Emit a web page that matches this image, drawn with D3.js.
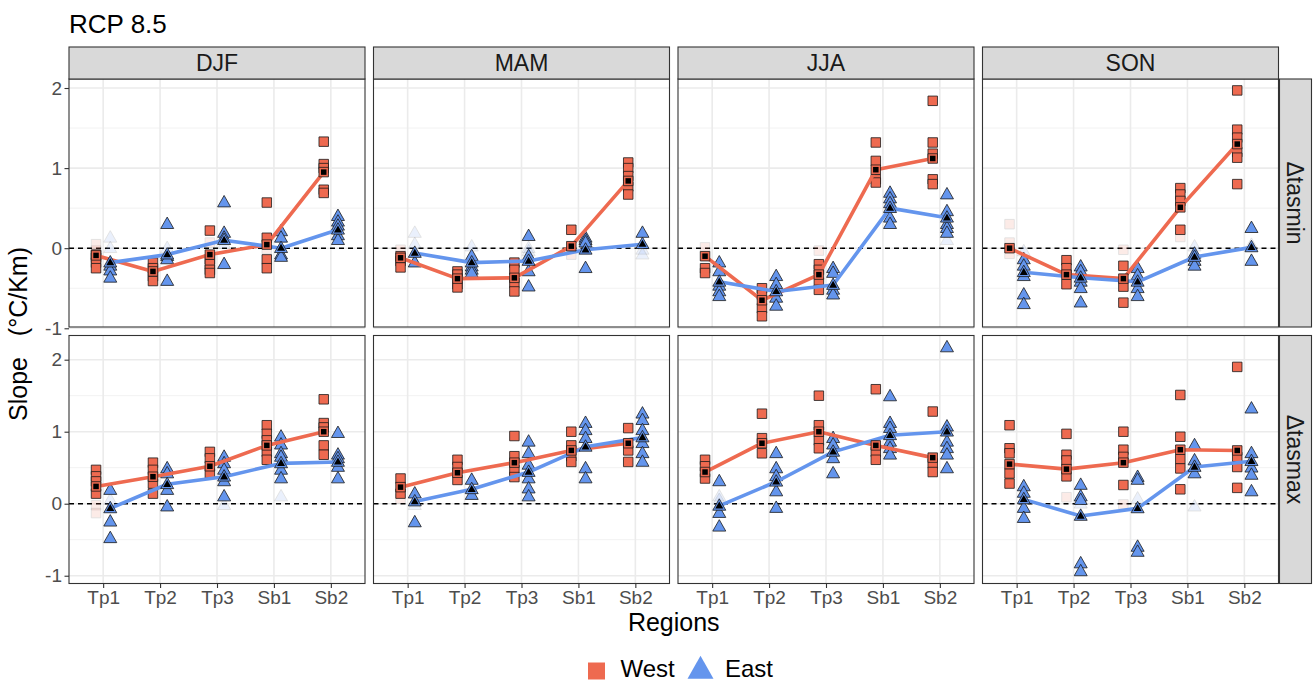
<!DOCTYPE html>
<html><head><meta charset="utf-8">
<script src="https://cdn.jsdelivr.net/npm/d3@7"></script>
<style>
html,body{margin:0;padding:0;background:#fff;}
svg{display:block;font-family:"Liberation Sans",Arial,sans-serif;}
</style></head>
<body>
<svg id="chart" width="1313" height="682"></svg>
<script>
// ---------------- DATA ----------------
const title = "RCP 8.5";
const regions = ["Tp1","Tp2","Tp3","Sb1","Sb2"];
const seasons = ["DJF","MAM","JJA","SON"];
const variables = ["Δtasmin","Δtasmax"];
const groups = ["West","East"];
const yTicks = [-1,0,1,2];
const yTickLabels = ["-1","0","1","2"];
const xTitle = "Regions";
const yTitle = "Slope   (°C/Km)";

// Group means (line + black marker): [season][region]
const tasminWestMean = [[-0.09,-0.29,-0.08,0.045,0.95],[-0.12,-0.38,-0.37,0.025,0.84],[-0.10,-0.65,-0.33,0.98,1.12],[0.00,-0.33,-0.38,0.51,1.30]];
const tasminEastMean = [[-0.18,-0.08,0.10,0.00,0.23],[-0.06,-0.18,-0.16,-0.02,0.05],[-0.42,-0.54,-0.46,0.50,0.38],[-0.30,-0.37,-0.42,-0.11,0.01]];
const tasmaxWestMean = [[0.24,0.375,0.52,0.81,1.00],[0.23,0.43,0.57,0.74,0.84],[0.44,0.84,1.00,0.81,0.64],[0.55,0.48,0.57,0.75,0.74]];
const tasmaxEastMean = [[-0.065,0.27,0.375,0.56,0.58],[0.03,0.20,0.44,0.79,0.92],[-0.03,0.305,0.72,0.95,1.00],[0.06,-0.17,-0.065,0.51,0.59]];

// Individual model slopes, significant: [season][region] -> values
const tasminWest = [
  [[-0.08,-0.12,-0.18,-0.25],[-0.18,-0.25,-0.35,-0.41],[0.22,-0.14,-0.20,-0.27,-0.31],[0.57,0.13,-0.14,-0.25],[1.33,1.05,1.00,0.73,0.69]],
  [[-0.10,-0.16,-0.24],[-0.29,-0.33,-0.45,-0.49],[-0.18,-0.27,-0.43,-0.54],[0.23],[1.07,1.00,0.90,0.77,0.67]],
  [[-0.25,-0.31],[-0.50,-0.58,-0.75,-0.85],[-0.20,-0.27,-0.43,-0.52],[1.32,1.09,0.86,0.82],[1.84,1.32,1.18,0.86,0.80]],
  [[],[-0.15,-0.25,-0.45],[-0.22,-0.48,-0.68],[0.75,0.67,0.59,0.23],[1.97,1.48,1.38,1.20,1.13,0.80]]
];
const tasminEast = [
  [[-0.22,-0.28,-0.37],[0.30,-0.10,-0.14,-0.41],[0.57,0.19,0.13,-0.20],[0.21,0.13,-0.08,-0.11],[0.40,0.33,0.28,0.16,0.10]],
  [[-0.18],[-0.10,-0.23,-0.27,-0.31],[0.15,-0.10,-0.29,-0.48],[0.13,0.10,0.07,-0.25],[0.19]],
  [[-0.18,-0.29,-0.47,-0.54,-0.60],[-0.35,-0.45,-0.62,-0.72],[-0.25,-0.31,-0.52,-0.58],[0.69,0.62,0.56,0.38,0.30],[0.67,0.46,0.30,0.25,0.19]],
  [[-0.14,-0.22,-0.35,-0.58,-0.70],[-0.23,-0.29,-0.42,-0.50,-0.68],[-0.25,-0.34,-0.50,-0.60],[-0.07,-0.16,-0.22],[0.25,-0.16]]
];
const tasmaxWest = [
  [[0.47,0.38,0.31,0.14],[0.57,0.47,0.28,0.14],[0.72,0.63,0.42],[1.09,0.97,0.88,0.72,0.61],[1.45,1.12,1.06,0.81,0.68]],
  [[0.35,0.14],[0.61,0.51,0.33],[0.94,0.66,0.47,0.37],[1.00,0.81,0.66,0.58],[1.05,0.74,0.58]],
  [[0.61,0.52,0.35],[1.25,0.91,0.70],[1.50,1.09,0.88,0.77],[1.59,0.72,0.61],[1.28,0.56,0.44]],
  [[1.09,0.77,0.70,0.42,0.28],[0.97,0.68,0.60,0.38],[1.00,0.75,0.65,0.26],[1.51,0.93,0.62,0.49,0.20],[1.90,0.65,0.51,0.22]]
];
const tasmaxEast = [
  [[0.19,-0.25,-0.48],[0.49,0.42,0.19,-0.04],[0.65,0.56,0.47,0.31,0.10],[0.93,0.82,0.70,0.65,0.47,0.35],[0.98,0.68,0.63,0.51,0.35]],
  [[0.14,-0.26],[0.33,0.12],[0.86,0.70,0.54,0.35,0.21,0.10],[1.12,1.02,0.91,0.49,0.35],[1.25,1.16,1.02,0.84,0.70,0.58]],
  [[0.31,-0.13,-0.32],[0.70,0.49,0.38,0.17,-0.06],[0.91,0.82,0.63,0.42],[1.49,1.12,1.05,0.86,0.77,0.68],[2.17,1.07,0.86,0.77,0.68,0.49]],
  [[0.24,0.15,-0.06,-0.20],[0.26,0.10,0.05,-0.83,-0.94],[0.37,0.33,-0.60,-0.67],[0.81,0.60,0.42],[1.32,0.70,0.50,0.40,0.17]]
];
// Non-significant model slopes (drawn faded): [season][region]
const tasminWestNS = [[[-0.03,0.05],[],[0.07],[-0.01],[]],[[-0.02],[],[],[-0.08],[]],[[0.01],[],[-0.03],[],[]],[[0.30,0.07,-0.07],[],[-0.02],[0.14],[]]];
const tasminEastNS = [[[0.13,0.00],[0.00],[0.05],[],[]],[[0.19,0.05],[0.02],[0.00,-0.04],[],[-0.02,-0.08]],[[],[],[],[],[0.10]],[[-0.04],[],[],[0.02],[0.04]]];
const tasmaxWestNS = [[[-0.02,-0.13],[],[],[],[]],[[0.07],[],[],[],[]],[[],[],[],[],[]],[[],[0.09],[-0.01],[],[]]];
const tasmaxEastNS = [[[0.05],[],[-0.02],[0.10],[]],[[-0.02],[],[],[],[]],[[0.10,0.05],[],[],[],[]],[[],[0.00],[0.07],[-0.04],[]]];

// ---------------- LAYOUT / STYLE ----------------
const colors = {West:"#EE6A50", East:"#6495ED"};
const panelX0 = 69, panelW = 296, gapX = 8.5;
const rowY0 = [79, 335.5], panelH = 248;
const yDomains = [[-0.984, 2.1125], [-1.108, 2.336]];
const stripH = 32, stripW = 32;

const svg = d3.select("#chart");

const x = d3.scalePoint().domain(regions).range([0, panelW]).padding(0.6);
const dodge = x.step() * 0.125;
const yScales = yDomains.map(d => d3.scaleLinear().domain(d).range([panelH, 0]));

const byVar = [
  {West: tasminWest, East: tasminEast, WestNS: tasminWestNS, EastNS: tasminEastNS, WestMean: tasminWestMean, EastMean: tasminEastMean},
  {West: tasmaxWest, East: tasmaxEast, WestNS: tasmaxWestNS, EastNS: tasmaxEastNS, WestMean: tasmaxWestMean, EastMean: tasmaxEastMean}
];

function sqPath(s){ const h=s/2; return `M${-h},${-h}H${h}V${h}H${-h}Z`; }
function triPath(w){ const h=w*0.88; return `M0,${-h*0.62}L${w/2},${h*0.38}L${-w/2},${h*0.38}Z`; }

// title
svg.append("text").attr("x", 69).attr("y", 33).attr("font-size", 26).attr("fill", "#000").text(title);

variables.forEach((v, r) => {
  const y = yScales[r];
  const d = byVar[r];
  seasons.forEach((s, c) => {
    const gx = panelX0 + c * (panelW + gapX);
    const g = svg.append("g").attr("transform", `translate(${gx},${rowY0[r]})`);
    g.append("rect").attr("width", panelW).attr("height", panelH).attr("fill", "#fff");
    // minor grid
    const minor = d3.range(-1.5, 2.6, 1).filter(t => t > y.domain()[0] && t < y.domain()[1]);
    g.selectAll(".ming").data(minor).join("line")
      .attr("x1", 0).attr("x2", panelW).attr("y1", t => y(t)).attr("y2", t => y(t))
      .attr("stroke", "#F2F2F2").attr("stroke-width", 1);
    g.selectAll(".majg").data(yTicks).join("line")
      .attr("x1", 0).attr("x2", panelW).attr("y1", t => y(t)).attr("y2", t => y(t))
      .attr("stroke", "#EBEBEB").attr("stroke-width", 1.6);
    g.selectAll(".vg").data(regions).join("line")
      .attr("x1", t => x(t)).attr("x2", t => x(t)).attr("y1", 0).attr("y2", panelH)
      .attr("stroke", "#EBEBEB").attr("stroke-width", 1.6);
    // zero line
    g.append("line").attr("x1", 0).attr("x2", panelW).attr("y1", y(0)).attr("y2", y(0))
      .attr("stroke", "#000").attr("stroke-width", 1.4).attr("stroke-dasharray", "5,4");

    groups.forEach(grp => {
      const off = grp === "West" ? -dodge : dodge;
      const shape = grp === "West" ? sqPath(9.5) : triPath(13);
      const pts = [], ns = [];
      regions.forEach((reg, i) => {
        d[grp][c][i].forEach(val => pts.push({reg, val}));
        d[grp + "NS"][c][i].forEach(val => ns.push({reg, val}));
      });
      g.append("g").selectAll("path").data(ns).join("path")
        .attr("d", shape).attr("transform", p => `translate(${x(p.reg)+off},${y(p.val)})`)
        .attr("fill", colors[grp]).attr("stroke", "#000").attr("stroke-width", 0.8)
        .attr("opacity", 0.13);
      g.append("g").selectAll("path").data(pts).join("path")
        .attr("d", shape).attr("transform", p => `translate(${x(p.reg)+off},${y(p.val)})`)
        .attr("fill", colors[grp]).attr("stroke", "#1a1a1a").attr("stroke-width", 0.8);
    });
    groups.forEach(grp => {
      const off = grp === "West" ? -dodge : dodge;
      const means = d[grp + "Mean"][c];
      const line = d3.line().x((m, i) => x(regions[i]) + off).y(m => y(m));
      g.append("path").attr("d", line(means)).attr("fill", "none")
        .attr("stroke", colors[grp]).attr("stroke-width", 3.6).attr("stroke-linejoin", "round");
    });
    groups.forEach(grp => {
      const off = grp === "West" ? -dodge : dodge;
      const means = d[grp + "Mean"][c];
      const outer = grp === "West" ? sqPath(9.5) : triPath(13);
      const inner = grp === "West" ? sqPath(5.5) : triPath(8);
      const mg = g.append("g").selectAll("g").data(means).join("g")
        .attr("transform", (m, i) => `translate(${x(regions[i]) + off},${y(m)})`);
      mg.append("path").attr("d", outer).attr("fill", colors[grp]).attr("stroke", "#1a1a1a").attr("stroke-width", 0.8);
      mg.append("path").attr("d", inner).attr("fill", "#000");
    });
    // border
    g.append("rect").attr("width", panelW).attr("height", panelH).attr("fill", "none")
      .attr("stroke", "#333").attr("stroke-width", 1.1);

    // axes
    if (c === 0) {
      const ax = g.append("g").call(d3.axisLeft(y).tickValues(yTicks)
        .tickFormat((t, i) => yTickLabels[i]).tickSize(4.5).tickPadding(2.5));
      ax.select(".domain").remove();
      ax.selectAll("line").attr("stroke", "#333").attr("stroke-width", 1.1);
      ax.selectAll("text").attr("font-size", 19).attr("fill", "#4D4D4D").attr("font-family", "Liberation Sans, Arial, sans-serif");
    }
    if (r === 1) {
      const ax = g.append("g").attr("transform", `translate(0,${panelH})`)
        .call(d3.axisBottom(x).tickSize(4.5).tickPadding(3));
      ax.select(".domain").remove();
      ax.selectAll("line").attr("stroke", "#333").attr("stroke-width", 1.1);
      ax.selectAll("text").attr("font-size", 19).attr("fill", "#4D4D4D").attr("font-family", "Liberation Sans, Arial, sans-serif");
    }
    // top strips
    if (r === 0) {
      const sg = svg.append("g").attr("transform", `translate(${gx},${rowY0[0] - stripH})`);
      sg.append("rect").attr("width", panelW).attr("height", stripH).attr("fill", "#D9D9D9").attr("stroke", "#333").attr("stroke-width", 1.1);
      sg.append("text").attr("x", panelW / 2).attr("y", stripH / 2).attr("dy", "0.35em")
        .attr("text-anchor", "middle").attr("font-size", 23).attr("fill", "#1A1A1A").text(s);
    }
    // right strips
    if (c === seasons.length - 1) {
      const sx = gx + panelW + 1;
      const sg = svg.append("g").attr("transform", `translate(${sx},${rowY0[r]})`);
      sg.append("rect").attr("width", stripW).attr("height", panelH).attr("fill", "#D9D9D9").attr("stroke", "#333").attr("stroke-width", 1.1);
      sg.append("text").attr("transform", `translate(${stripW / 2},${panelH / 2}) rotate(90)`).attr("dy", "0.35em")
        .attr("text-anchor", "middle").attr("font-size", 23).attr("fill", "#1A1A1A").text(v);
    }
  });
});

// axis titles
const plotCenterX = panelX0 + (seasons.length * panelW + (seasons.length - 1) * gapX) / 2;
svg.append("text").attr("x", plotCenterX).attr("y", 631).attr("text-anchor", "middle")
  .attr("font-size", 25).attr("fill", "#000").text(xTitle);
svg.append("text").attr("transform", `translate(27,334) rotate(-90)`).attr("text-anchor", "middle")
  .attr("font-size", 25).attr("fill", "#000").style("white-space", "pre").text(yTitle);

// legend
const leg = svg.append("g").attr("transform", "translate(588,0)");
leg.append("path").attr("d", sqPath(17)).attr("transform", "translate(8.5,671)").attr("fill", colors.West);
leg.append("text").attr("x", 32.5).attr("y", 677).attr("font-size", 24).attr("fill", "#000").text(groups[0]);
leg.append("path").attr("d", triPath(26)).attr("transform", "translate(112.5,670)").attr("fill", colors.East);
leg.append("text").attr("x", 137).attr("y", 677).attr("font-size", 24).attr("fill", "#000").text(groups[1]);
</script>
</body></html>
